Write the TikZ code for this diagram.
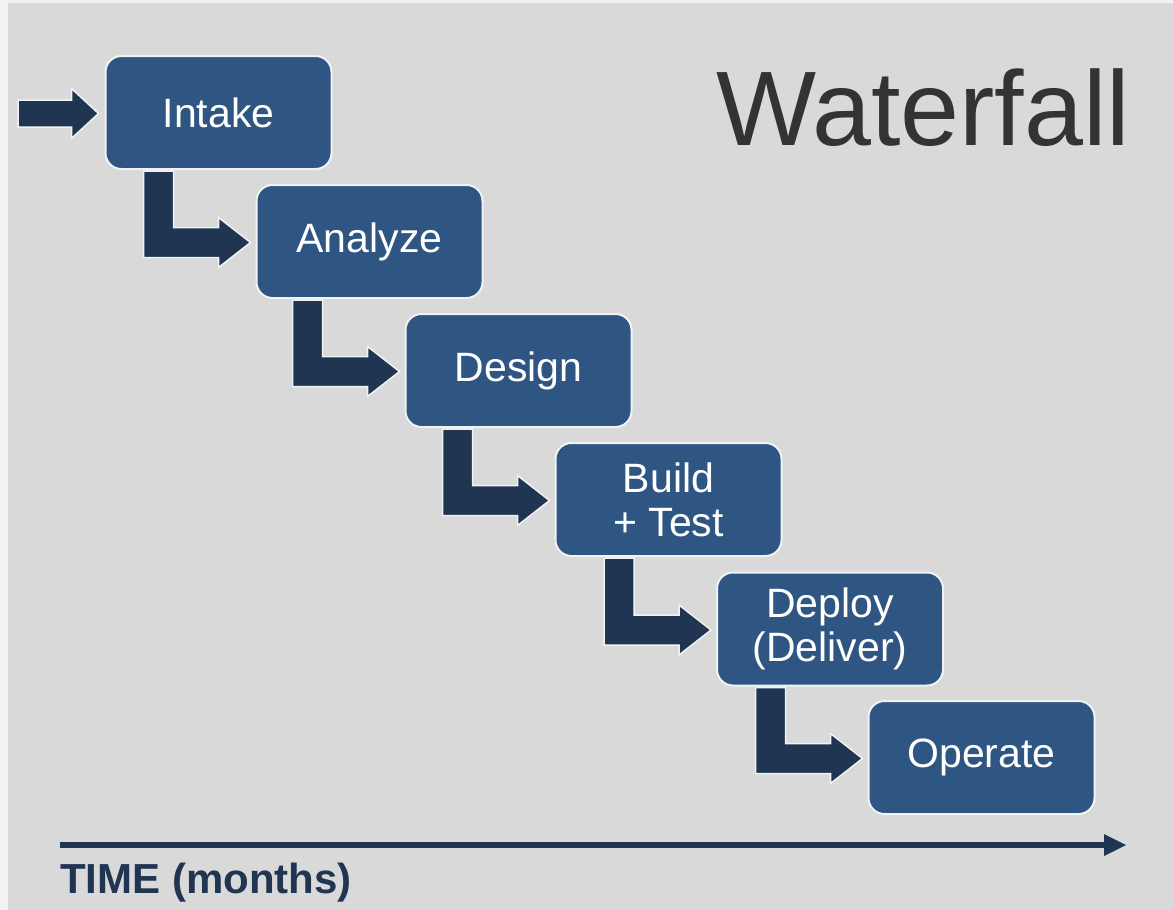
\documentclass[tikz,border=0pt]{standalone}
\usepackage{fontspec}
\setmainfont{Liberation Sans}
\definecolor{PageColor}{RGB}{242,242,242}
\definecolor{PanelColor}{RGB}{217,217,217}
\definecolor{PhaseColor}{RGB}{47,86,130}
\definecolor{FlowColor}{RGB}{31,53,82}
\definecolor{TitleColor}{RGB}{51,51,51}
\definecolor{EdgeColor}{RGB}{240,242,244}
\usetikzlibrary{positioning, arrows.meta, calc}
\tikzstyle{phase} = [rectangle, rounded corners=16pt, draw=EdgeColor, line width=2pt, fill=PhaseColor, text=white, minimum width=226pt, minimum height=113pt, inner sep=0pt, align=center, font=\fontsize{41}{44}\selectfont]
\tikzstyle{flow} = [fill=FlowColor, draw=EdgeColor, line width=1.5pt, line join=miter]

% block arrow dropping from the bottom of #1 and turning right into #2
\newcommand{\dropArrow}[2]{%
  \coordinate (top) at ($(#1.south -| #2.west)+(-112,1)$);
  \coordinate (tip) at ($(#2.west)+(-5,1)$);
  \draw[flow] (top) -- ++(30,0) |- ($(tip)+(-32,-15)$) -- ++(0,-10) -- (tip)
    -- ++(-32,25) -- ++(0,-10) -- ($(top |- tip)+(0,15)$) -- cycle;
}

\begin{document}
\begin{tikzpicture}[x=1pt, y=-1pt]
                \useasboundingbox (0,0) rectangle (1173,910);
                % Background
                \fill[PageColor] (0,0) rectangle (1173,910);
                \fill[PanelColor] (8,3) rectangle (1173,910);

                % Title
                \node[anchor=base west, inner sep=0pt, TitleColor, font=\fontsize{106}{110}\selectfont] (title) at (716,145) {Waterfall};

                % Phases
                \node[phase] (intake) at (218.5,112.5) {Intake};
                \node[phase] (analyze) at (369.5,241.5) {Analyze};
                \node[phase] (design) at (518.5,370.5) {Design};
                \node[phase] (build) at (668.5,499.5) {Build\\+ Test};
                \node[phase] (deploy) at (830,629) {Deploy\\(Deliver)};
                \node[phase] (operate) at (981.5,757.5) {Operate};

                % Entry arrow
                \coordinate (start) at (18,0);
                \coordinate (entry) at ($(intake.west)+(-6,1)$);
                \draw[flow] ($(start |- entry)+(0,-13.5)$) -- ($(entry)+(-27,-13.5)$) -- ++(0,-11.5) -- (entry)
                  -- ++(-27,25) -- ++(0,-11.5) -- ($(start |- entry)+(0,13.5)$) -- cycle;

                % Steps between phases
                \dropArrow{intake}{analyze}
                \dropArrow{analyze}{design}
                \dropArrow{design}{build}
                \dropArrow{build}{deploy}
                \dropArrow{deploy}{operate}

                % Time axis
                \coordinate (t0) at (60,845);
                \coordinate (t1) at (1126,845);
                \draw[FlowColor, line width=6.5pt, -{Triangle[length=22pt, width=22pt, line width=0pt]}] (t0) -- (t1);
                \node[anchor=base west, inner sep=0pt, FlowColor, font=\fontsize{42}{46}\selectfont\bfseries] (timelabel) at (60,893) {TIME (months)};
            \end{tikzpicture}
\end{document}
